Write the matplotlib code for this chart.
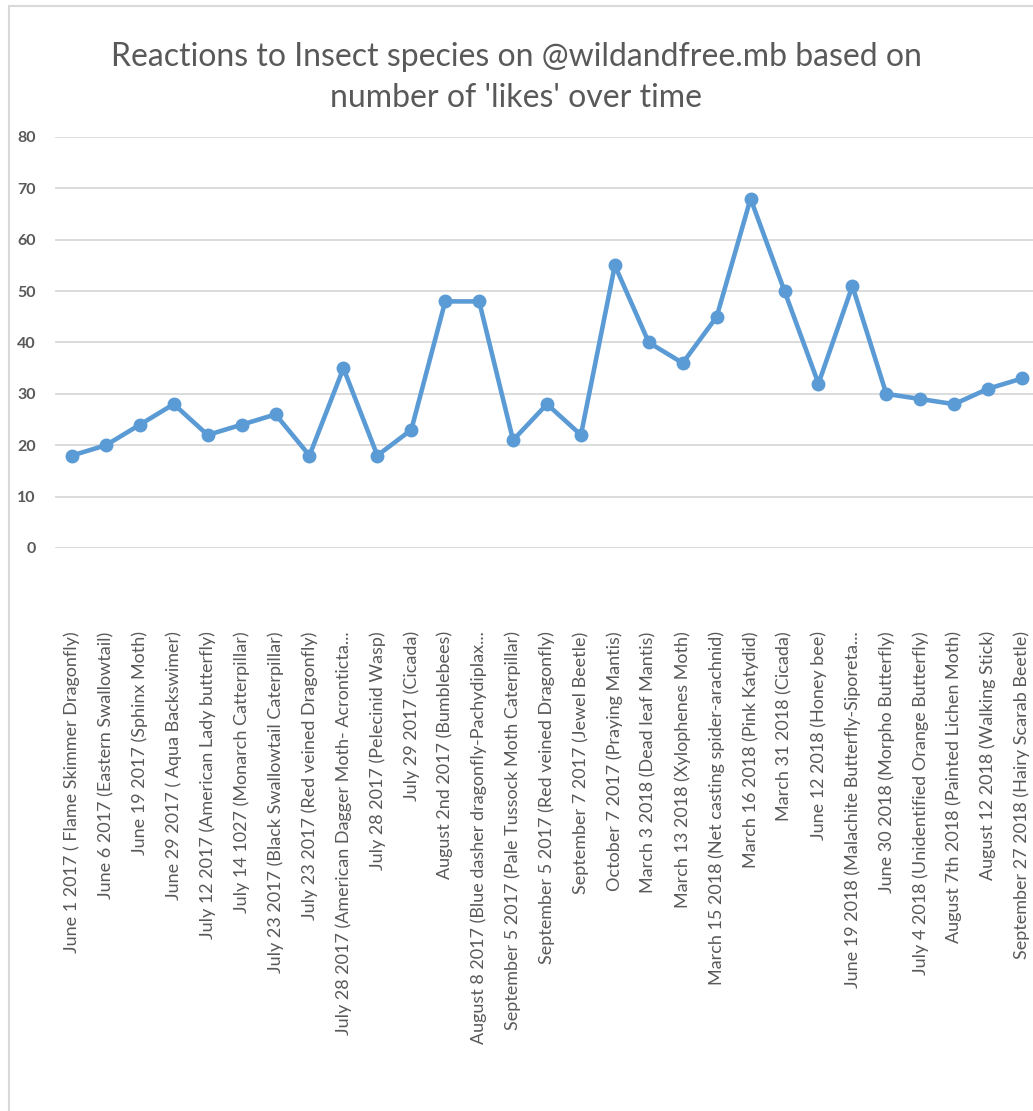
import matplotlib
matplotlib.use("Agg")
import matplotlib.pyplot as plt
from matplotlib.patches import Rectangle

# Instagram posts (date + species) and the likes each one received
posts = [
    "June 1 2017 ( Flame Skimmer Dragonfly)",
    "June 6 2017 (Eastern Swallowtail)",
    "June 19 2017 (Sphinx Moth)",
    "June 29 2017 ( Aqua Backswimer)",
    "July 12 2017 (American Lady butterfly)",
    "July 14 1027 (Monarch Catterpillar)",
    "July 23 2017 (Black Swallowtail Caterpillar)",
    "July 23 2017 (Red veined Dragonfly)",
    "July 28 2017 (American Dagger Moth- Acronticta...",
    "July 28 2017 (Pelecinid Wasp)",
    "July 29 2017 (Cicada)",
    "August 2nd 2017 (Bumblebees)",
    "August 8 2017 (Blue dasher dragonfly-Pachydiplax...",
    "September 5 2017 (Pale Tussock Moth Caterpillar)",
    "September 5 2017 (Red veined Dragonfly)",
    "September 7 2017 (Jewel Beetle)",
    "October 7 2017 (Praying Mantis)",
    "March 3 2018 (Dead leaf Mantis)",
    "March 13 2018 (Xylophenes Moth)",
    "March 15 2018 (Net casting spider-arachnid)",
    "March 16 2018 (Pink Katydid)",
    "March 31 2018 (Cicada)",
    "June 12 2018 (Honey bee)",
    "June 19 2018 (Malachite Butterfly-Siporeta...",
    "June 30 2018 (Morpho Butterfly)",
    "July 4 2018 (Unidentified Orange Butterfly)",
    "August 7th 2018 (Painted Lichen Moth)",
    "August 12 2018 (Walking Stick)",
    "September 27 2018 (Hairy Scarab Beetle)",
]
likes = [18, 20, 24, 28, 22, 24, 26, 18, 35, 18, 23, 48, 48, 21, 28, 22,
         55, 40, 36, 45, 68, 50, 32, 51, 30, 29, 28, 31, 33]
y_ticks = [0, 10, 20, 30, 40, 50, 60, 70, 80]

plt.rcParams['font.family'] = ['Lato', 'DejaVu Sans']
TEXT = '#595959'
GRID = '#d9d9d9'
BLUE = '#5b9bd5'

W, H = 1033, 1111
fig = plt.figure(figsize=(W / 100, H / 100), dpi=100)
fig.patch.set_facecolor('white')

# chart frame (runs off the right and bottom edges)
fig.patches.append(Rectangle((8.5 / W, -0.05), 1.2, 1 - 5.5 / H + 0.05,
                             transform=fig.transFigure, fill=False,
                             edgecolor=GRID, linewidth=1.5))

ax = fig.add_axes([55 / W, 1 - 548 / H, (1039 - 55) / W, (548 - 137) / H])
x = range(len(posts))
ax.plot(x, likes, color=BLUE, linewidth=3.3, marker='o', markersize=9,
        solid_joinstyle='round', clip_on=False, zorder=3)

ax.set_xlim(-0.5, len(posts) - 0.5)
ax.set_ylim(0, 80)
ax.set_yticks(y_ticks)
ax.set_yticklabels([str(v) for v in y_ticks], fontsize=11.5,
                   fontweight='bold', color=TEXT)
ax.set_xticks(list(x))
ax.set_xticklabels(posts, rotation=90, fontsize=13, color=TEXT)
ax.tick_params(axis='x', length=0, pad=60)
ax.tick_params(axis='y', length=0, pad=14)
ax.grid(axis='y', color=GRID, linewidth=1.3)
ax.set_axisbelow(True)
for s in ax.spines.values():
    s.set_visible(False)

fig.text(516 / W, 1 - 57 / H, "Reactions to Insect species on @wildandfree.mb based on",
         ha='center', va='center', fontsize=23, color=TEXT)
fig.text(516 / W, 1 - 98 / H, "number of 'likes' over time",
         ha='center', va='center', fontsize=23, color=TEXT)

fig.savefig('out.png', dpi=100)
